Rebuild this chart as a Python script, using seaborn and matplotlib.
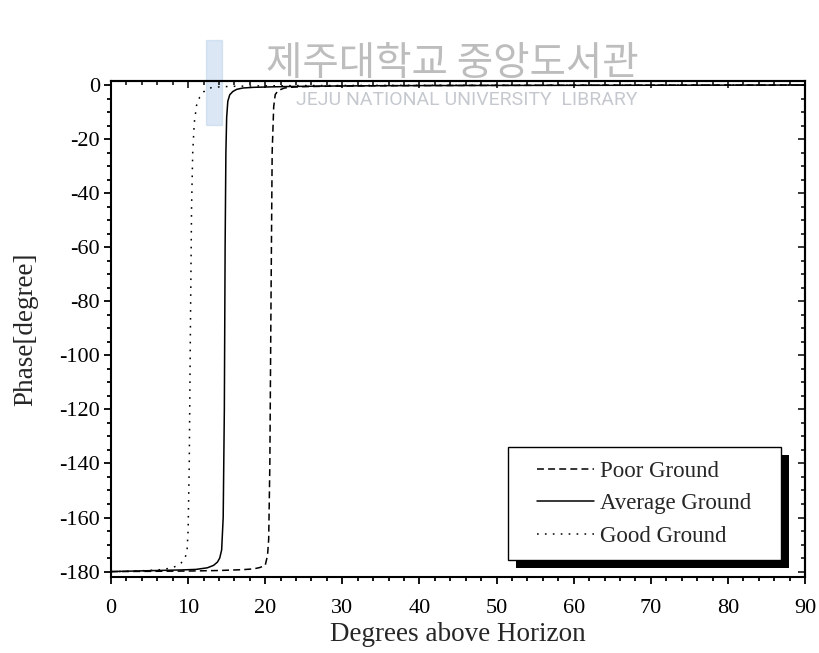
import numpy as np
import pandas as pd
import matplotlib
matplotlib.use("Agg")
import matplotlib.pyplot as plt
from matplotlib.patches import Rectangle
from matplotlib.ticker import MultipleLocator
import seaborn as sns

# ---- data ----
poor_x = [0, 5, 10, 14, 17, 18.5, 19.3, 20.0, 20.3, 20.45, 20.6, 20.75, 20.9, 21.1, 21.3,
          21.7, 22.5, 23.5, 25, 28, 33, 40, 55, 70, 90]
poor_y = [-180, -179.9, -179.8, -179.6, -179.3, -179.0, -178.5, -177.7, -174, -168, -140, -80,
          -25, -8, -3.5, -2.0, -1.1, -0.8, -0.6, -0.45, -0.3, -0.2, -0.1, -0.05, 0]

avg_x = [0, 3, 6, 9, 11, 12.5, 13.3, 13.8, 14.1, 14.35, 14.55, 14.7, 14.8, 14.9, 15.0,
         15.15, 15.4, 15.8, 16.3, 17.1, 18.5, 20.5, 23, 27, 35, 50, 70, 90]
avg_y = [-180, -179.8, -179.6, -179.4, -179.2, -178.6, -177.7, -176.5, -175, -172, -160, -120,
         -60, -25, -12, -6, -3.6, -2.4, -1.6, -1.1, -0.85, -0.7, -0.55, -0.4, -0.25, -0.15, -0.08, 0]

good_x = [0, 2, 4, 6, 7, 8, 8.6, 9.1, 9.5, 9.85, 10.0, 10.15, 10.3, 10.45, 10.6, 10.8, 11.1,
          11.5, 11.9, 12.4, 13.0, 14, 15.5, 18, 25, 40, 60, 90]
good_y = [-180, -179.9, -179.7, -179.4, -179.1, -178.5, -177.8, -176.8, -175.5, -173, -165,
          -140, -90, -45, -25, -14, -7.5, -4.5, -2.8, -1.6, -1.0, -0.7, -0.5, -0.35, -0.2,
          -0.1, -0.05, 0]

series_labels = ["Poor Ground", "Average Ground", "Good Ground"]
x_ticks = [0, 10, 20, 30, 40, 50, 60, 70, 80, 90]
y_ticks = [0, -20, -40, -60, -80, -100, -120, -140, -160, -180]

# ---- style ----
sns.set_theme(style="ticks")
plt.rcParams["font.family"] = ["Liberation Serif", "DejaVu Serif"]
plt.rcParams["lines.scale_dashes"] = False
plt.rcParams["axes.linewidth"] = 1.5
plt.rcParams["axes.unicode_minus"] = False

fig = plt.figure(figsize=(8.19, 6.53), dpi=100)
ax = fig.add_axes([0.1355, 0.1164, 0.983 - 0.1355, 0.876 - 0.1164])
ax.set_zorder(1)
ax.patch.set_alpha(0)

# ---- watermark ----
fig.patches.append(Rectangle((206 / 819, 1 - 125 / 653), 16 / 819, 85 / 653,
                             transform=fig.transFigure, color="#b9d0ea", alpha=0.5,
                             zorder=0))
fig.text(452 / 819, 1 - 64 / 653, "제주대학교 중앙도서관", ha="center", va="center",
         fontsize=28.5, color="#bdbdbd", family=["Noto Sans CJK KR"], fontweight="light",
         zorder=0.5)
fig.text(467 / 819, 1 - 100 / 653, "JEJU NATIONAL UNIVERSITY  LIBRARY", ha="center",
         va="center", fontsize=14, color="#c5c9cf", family=["Roboto", "DejaVu Sans"],
         zorder=0.5)

styles = [(0, (5, 3)), "-", (0, (1.2, 4.5))]
data = [(poor_x, poor_y), (avg_x, avg_y), (good_x, good_y)]
for (xs, ys), lab, ls in zip(data, series_labels, styles):
    df = pd.DataFrame({"x": xs, "y": ys})
    sns.lineplot(data=df, x="x", y="y", ax=ax, color="black", linewidth=1.1,
                 linestyle=ls, label=lab, sort=False, estimator=None)

ax.set_xlim(0, 90)
ax.set_ylim(-182, 1.5)
ax.set_xticks(x_ticks)
ax.set_yticks(y_ticks)
ax.xaxis.set_minor_locator(MultipleLocator(2))
ax.yaxis.set_minor_locator(MultipleLocator(5))
ax.tick_params(axis="both", which="major", length=5, width=1.3, labelsize=16,
               color="black", labelcolor="black")
ax.tick_params(axis="both", which="minor", length=3, width=1.3, color="black")
ax.tick_params(axis="x", which="both", direction="out", top=False, bottom=True, pad=11)
ax.tick_params(axis="y", which="both", direction="out", right=False, left=True, pad=3)
for s in ax.spines.values():
    s.set_color("black")
    s.set_linewidth(1.5)

# inward ticks on top and right
axt = ax.secondary_xaxis("top")
axt.set_xticks(x_ticks)
axt.xaxis.set_minor_locator(MultipleLocator(2))
axt.tick_params(which="major", direction="in", length=5, width=1.3, labeltop=False)
axt.tick_params(which="minor", direction="in", length=3, width=1.3)
axt.spines["top"].set_linewidth(1.5)
axr = ax.secondary_yaxis("right")
axr.set_yticks(y_ticks)
axr.yaxis.set_minor_locator(MultipleLocator(5))
axr.tick_params(which="major", direction="in", length=5, width=1.3, labelright=False)
axr.tick_params(which="minor", direction="in", length=3, width=1.3)
axr.spines["right"].set_linewidth(1.5)

ax.set_xlabel("Degrees above Horizon", fontsize=19.5, labelpad=3)
ax.set_ylabel("Phase[degree]", fontsize=19.5, labelpad=15)

leg = ax.legend(loc="lower right", bbox_to_anchor=(0.9395, 0.038), borderaxespad=0,
                fontsize=16.5, frameon=False, handlelength=2.45, handletextpad=0.3,
                labelspacing=0.5, borderpad=0.5)
leg.set_zorder(6)

fig.canvas.draw()
bb = leg.get_window_extent()
ex, ey = 18, 2
frame = Rectangle((bb.x0 - ex, bb.y0 - ey), bb.width + 2 * ex, bb.height + 2 * ey,
                  transform=None, facecolor="white", edgecolor="black", linewidth=1.0,
                  zorder=5.8)
ax.add_artist(frame)
off = 8
shadow = Rectangle((bb.x0 - ex + off, bb.y0 - ey - off), bb.width + 2 * ex,
                   bb.height + 2 * ey, transform=None, facecolor="black",
                   edgecolor="none", zorder=5.5)
ax.add_artist(shadow)

fig.savefig("out.png", dpi=100)
